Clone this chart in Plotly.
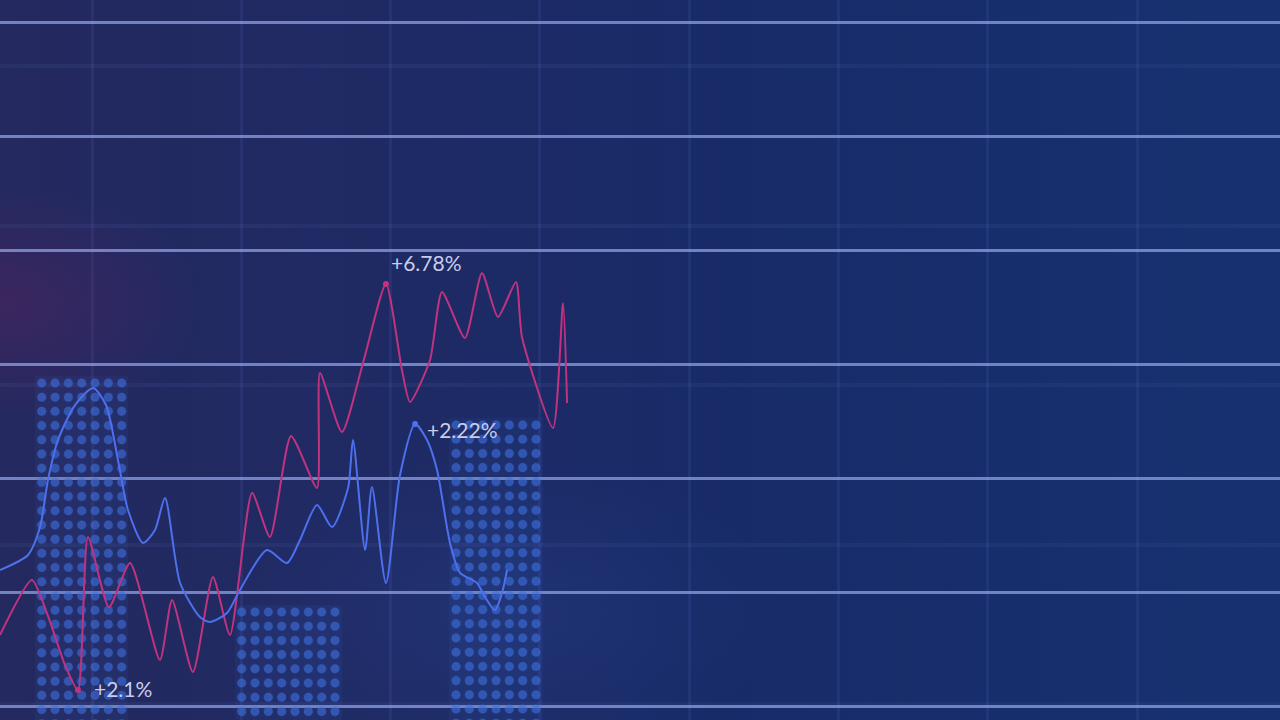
import base64
import plotly.graph_objects as go

# ---------------- data ----------------
pink_x = [-0.616, -0.402, -0.295, -0.181, -0.094, -0.027, 0.114, 0.255, 0.455, 0.536,
          0.676, 0.810, 0.924, 1.072, 1.192, 1.333, 1.507, 1.527, 1.674, 1.815,
          1.969, 2.076, 2.130, 2.264, 2.344, 2.498, 2.612, 2.719, 2.840, 2.880,
          3.088, 3.155, 3.182]
pink_y = [0.623, 1.105, 0.790, 0.360, 0.140, 1.482, 0.868, 1.254, 0.404, 0.930,
          0.298, 1.132, 0.623, 1.868, 1.482, 2.368, 1.912, 2.921, 2.404, 3.009,
          3.702, 2.947, 2.667, 3.035, 3.632, 3.228, 3.798, 3.412, 3.719, 3.237,
          2.439, 3.535, 2.658]

blue_x = [-0.616, -0.429, -0.348, -0.295, -0.228, -0.114, 0.007, 0.094, 0.174, 0.241,
          0.342, 0.422, 0.489, 0.590, 0.723, 0.790, 0.904, 0.991, 1.172, 1.306,
          1.393, 1.507, 1.608, 1.715, 1.748, 1.829, 1.875, 1.969, 2.063, 2.164,
          2.244, 2.311, 2.398, 2.465, 2.579, 2.632, 2.699, 2.746, 2.780]
blue_y = [1.193, 1.325, 1.570, 1.983, 2.333, 2.640, 2.789, 2.640, 2.158, 1.719,
          1.430, 1.544, 1.825, 1.079, 0.781, 0.737, 0.816, 1.018, 1.368, 1.254,
          1.456, 1.763, 1.570, 1.912, 2.333, 1.368, 1.921, 1.079, 2.026, 2.474,
          2.333, 2.070, 1.430, 1.167, 1.079, 0.956, 0.842, 0.991, 1.193]

bar_x = [-0.069, 1.315, 2.706]
bar_top = [2.896, 0.887, 2.527]

labels = ["+6.78%", "+2.22%", "+2.1%"]
label_series = ["pink", "blue", "pink"]
label_index = [20, 29, 4]

# ---------------- styling ----------------
bar_cols = [7, 8, 7]
COL_STEP = 13.33 / 149.3
ROW_STEP = 14.2 / 114
X_RANGE = [-92 / 149.3, (1280 - 92) / 149.3]
Y_RANGE = [-14 / 114, 706 / 114]
BAR_BASE = -0.2
PINK = "#c0337f"
BLUE = "#4d70ee"
label_shift = [(3, 21), (10, -6), (14, 2)]

svg = """<svg xmlns='http://www.w3.org/2000/svg' width='1280' height='720' viewBox='0 0 1280 720' preserveAspectRatio='none'>
<defs>
<linearGradient id='a' x1='0' y1='0' x2='1' y2='0'>
<stop offset='0' stop-color='#24295f'/>
<stop offset='0.3' stop-color='#1f2a64'/>
<stop offset='0.55' stop-color='#182b68'/>
<stop offset='1' stop-color='#173170'/>
</linearGradient>
<radialGradient id='b' cx='0' cy='0.42' r='0.16'>
<stop offset='0' stop-color='#5a2260' stop-opacity='0.45'/>
<stop offset='1' stop-color='#5a2260' stop-opacity='0'/>
</radialGradient>
<radialGradient id='c' cx='0.39' cy='0.85' r='0.22'>
<stop offset='0' stop-color='#2a4a9a' stop-opacity='0.25'/>
<stop offset='1' stop-color='#2a4a9a' stop-opacity='0'/>
</radialGradient>
</defs>
<rect width='1280' height='720' fill='url(#a)'/>
<rect width='1280' height='720' fill='url(#b)'/>
<rect width='1280' height='720' fill='url(#c)'/>
</svg>"""
bg_src = "data:image/svg+xml;base64," + base64.b64encode(svg.encode()).decode()

fig = go.Figure()

# glow behind the dotted bars
fig.add_trace(go.Bar(
    x=bar_x, y=[t - BAR_BASE for t in bar_top], base=BAR_BASE,
    width=[c * COL_STEP for c in bar_cols],
    marker=dict(color="rgba(60,110,220,0.08)", line=dict(width=0)),
    hoverinfo="skip", showlegend=False))

# dotted bars: dot grid derived from bar values
dx, dy = [], []
for cx, top, nc in zip(bar_x, bar_top, bar_cols):
    left = cx - nc * COL_STEP / 2
    yy = top - ROW_STEP / 2
    while yy > Y_RANGE[0] - ROW_STEP:
        for j in range(nc):
            dx.append(left + (j + 0.5) * COL_STEP)
            dy.append(yy)
        yy -= ROW_STEP
fig.add_trace(go.Scatter(
    x=dx, y=dy, mode="markers",
    marker=dict(size=8.5, color="rgba(62,112,222,0.6)", line=dict(width=1.5, color="rgba(62,112,222,0.22)")),
    hoverinfo="skip", showlegend=False))

# lines
fig.add_trace(go.Scatter(
    x=pink_x, y=pink_y, mode="lines",
    line=dict(color=PINK, width=2, shape="spline", smoothing=0.6),
    hoverinfo="skip", showlegend=False))
fig.add_trace(go.Scatter(
    x=blue_x, y=blue_y, mode="lines",
    line=dict(color=BLUE, width=2, shape="spline", smoothing=0.7),
    hoverinfo="skip", showlegend=False))

# labelled points
series = {"pink": (pink_x, pink_y, PINK), "blue": (blue_x, blue_y, BLUE)}
pts = []
for s, i in zip(label_series, label_index):
    xs_, ys_, col = series[s]
    pts.append((xs_[i], ys_[i], col))
fig.add_trace(go.Scatter(
    x=[p[0] for p in pts], y=[p[1] for p in pts], mode="markers",
    marker=dict(size=6, color=[p[2] for p in pts]),
    hoverinfo="skip", showlegend=False))

# empty trace on the secondary (faint) grid axis
fig.add_trace(go.Scatter(x=[None], y=[None], yaxis="y2", showlegend=False, hoverinfo="skip"))

for (px_, py_, _), txt, (xs, ys) in zip(pts, labels, label_shift):
    fig.add_annotation(x=px_, y=py_, text=txt, showarrow=False,
                       xanchor="left", yanchor="middle", xshift=xs, yshift=ys,
                       font=dict(family="Lato, Open Sans, sans-serif", size=21, color="#c9cdea"))

fig.update_layout(
    width=1280, height=720,
    margin=dict(l=0, r=0, t=0, b=0),
    paper_bgcolor="#1b2b68", plot_bgcolor="rgba(0,0,0,0)",
    showlegend=False, bargap=0,
    images=[dict(source=bg_src, xref="paper", yref="paper", x=0, y=1,
                 sizex=1, sizey=1, xanchor="left", yanchor="top",
                 sizing="stretch", layer="below")],
    xaxis=dict(range=X_RANGE, showgrid=True, gridcolor="rgba(110,130,215,0.11)", gridwidth=3,
               tick0=0, dtick=1, showticklabels=False, zeroline=False, ticks="",
               showline=False, fixedrange=True),
    yaxis=dict(range=Y_RANGE, showgrid=True, gridcolor="rgba(150,168,235,0.70)", gridwidth=2.5,
               tick0=0, dtick=1, showticklabels=False, zeroline=False, ticks="",
               showline=False, fixedrange=True),
    yaxis2=dict(range=Y_RANGE, overlaying="y", showgrid=True,
                gridcolor="rgba(110,130,215,0.09)", gridwidth=4,
                tick0=640 / 114, dtick=1.4, showticklabels=False, zeroline=False,
                ticks="", showline=False, fixedrange=True),
)

fig.write_html("out.html", config={"displayModeBar": False},
               post_script="document.body.style.margin='0';document.body.style.overflow='hidden';")
